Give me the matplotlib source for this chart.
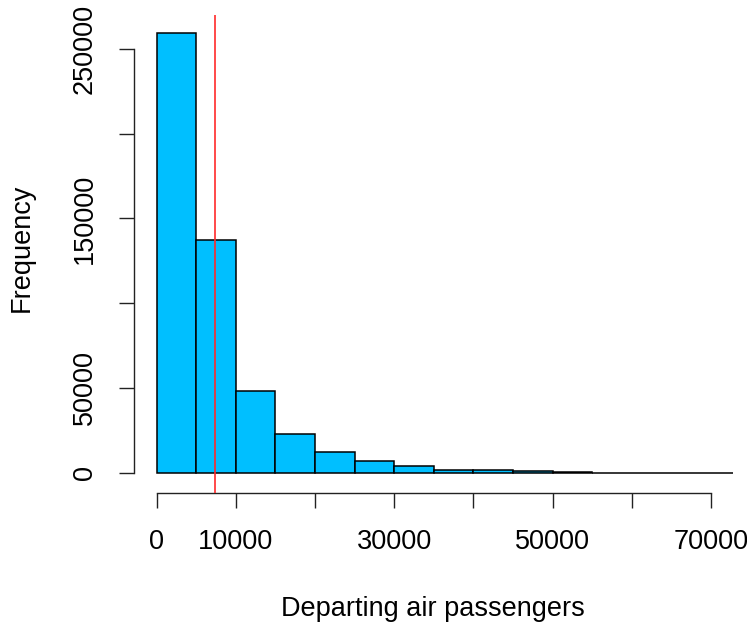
import matplotlib
matplotlib.use("Agg")
import matplotlib.pyplot as plt
import numpy as np

# Data
bin_edges = [0, 5000, 10000, 15000, 20000, 25000, 30000, 35000, 40000,
             45000, 50000, 55000, 60000, 65000, 70000, 75000]
counts = [259400, 137500, 48200, 22800, 12000, 6700, 3800, 1600, 1500,
          800, 150, 60, 30, 15, 8]
mean_value = 7400
x_ticks = [0, 10000, 20000, 30000, 40000, 50000, 60000, 70000]
x_tick_labels = ["0", "10000", "", "30000", "", "50000", "", "70000"]
y_ticks = [0, 50000, 100000, 150000, 200000, 250000]
y_tick_labels = ["0", "50000", "", "150000", "", "250000"]

plt.rcParams['font.family'] = ['Liberation Sans', 'DejaVu Sans']

W, H = 747, 625
fig = plt.figure(figsize=(W / 100, H / 100), dpi=100)

left_px, right_px, top_px, bottom_px = 134, 733, 15, 492.5
ax = fig.add_axes([left_px / W, (H - bottom_px) / H,
                   (right_px - left_px) / W, (bottom_px - top_px) / H])

widths = np.diff(bin_edges)
ax.bar(bin_edges[:-1], counts, width=widths, align="edge",
       facecolor="#00BFFF", edgecolor="black", linewidth=1.1)
ax.axvline(mean_value, color="#FF2A2A", linewidth=1.2, zorder=5)

ax.set_xlim(-2868, 72800)
ax.set_ylim(-11683, 270060)

for s in ["top", "right"]:
    ax.spines[s].set_visible(False)
ax.spines["bottom"].set_bounds(0, 70000)
ax.spines["left"].set_bounds(0, 250000)
for s in ["bottom", "left"]:
    ax.spines[s].set_linewidth(1.0)
    ax.spines[s].set_color("#222222")

ax.set_xticks(x_ticks)
ax.set_xticklabels(x_tick_labels)
ax.set_yticks(y_ticks)
ax.set_yticklabels(y_tick_labels, rotation=90, va="center")
ax.tick_params(axis="both", length=11, width=1.0, color="#222222",
               labelsize=19.5, pad=15)
for lbl in ax.get_xticklabels():
    if lbl.get_text() == "70000":
        lbl.set_horizontalalignment("center")

fig.text(432.5 / W, 1 - 609 / H, "Departing air passengers", fontsize=19.5,
         ha="center", va="center")
fig.text(21.5 / W, 1 - 247.5 / H, "Frequency", fontsize=19.5, rotation=90,
         ha="center", va="center")

fig.savefig("out.png", dpi=100)
